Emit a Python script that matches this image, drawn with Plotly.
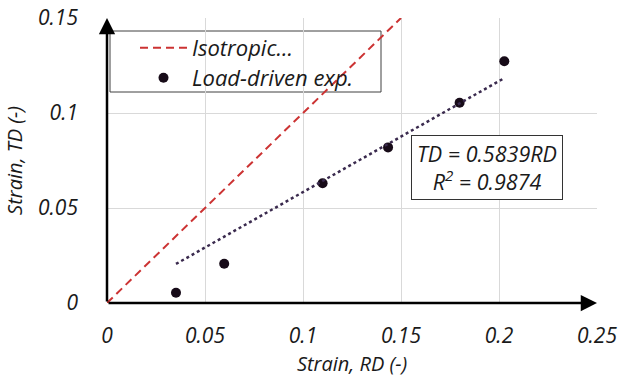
import plotly.graph_objects as go

# Data
rd_exp = [0.0352, 0.0598, 0.110, 0.1434, 0.1799, 0.2027]
td_exp = [0.0054, 0.0207, 0.063, 0.0819, 0.1054, 0.1272]
iso_x = [0.0, 0.15]
iso_y = [0.0, 0.15]
fit_slope = 0.5839
fit_r2 = 0.9874
x_ticks = [0, 0.05, 0.1, 0.15, 0.2, 0.25]
x_ticklabels = ["0", "0.05", "0.1", "0.15", "0.2", "0.25"]
y_ticks = [0, 0.05, 0.1, 0.15]
y_ticklabels = ["0", "0.05", "0.1", "0.15"]

fit_x = [min(rd_exp), max(rd_exp)]
fit_y = [fit_slope * v for v in fit_x]

FONT = "Open Sans"
TXT = "#1a1a1a"
L, R, T, B = 107, 24, 18, 77
PW, PH = 621 - L - R, 380 - T - B


def px_x(p):
    return (p - L) / PW


def px_y(p):
    return (380 - B - p) / PH


fig = go.Figure()
fig.add_trace(go.Scatter(
    x=iso_x, y=iso_y, mode="lines", name="<i>Isotropic...</i>",
    line=dict(color="#cc3333", width=2, dash="8px,5px"), legend="legend",
))
fig.add_trace(go.Scatter(
    x=rd_exp, y=td_exp, mode="markers", name="<i>Load-driven exp.</i>",
    marker=dict(color="#170b18", size=10), legend="legend2",
))
fig.add_trace(go.Scatter(
    x=fit_x, y=fit_y, mode="lines", showlegend=False,
    line=dict(color="#3a2a4e", width=2.5, dash="dot"),
))

# axis arrows
fig.add_annotation(x=0.25, y=0, ax=0, ay=0, xref="x", yref="y", axref="x", ayref="y",
                   showarrow=True, arrowhead=2, arrowsize=1.3, arrowwidth=2.5,
                   arrowcolor="black", text="")
fig.add_annotation(x=0, y=0.15, ax=0, ay=0, xref="x", yref="y", axref="x", ayref="y",
                   showarrow=True, arrowhead=2, arrowsize=1.3, arrowwidth=2.5,
                   arrowcolor="black", text="")

# equation box
fig.add_annotation(
    x=0.194, y=0.0712, xref="x", yref="y", showarrow=False,
    text=f"<i>TD = {fit_slope}RD</i><br><i>R<sup>2</sup> = {fit_r2}</i>",
    font=dict(family=FONT, size=21.5, color=TXT),
    bordercolor="#333333", borderwidth=1, borderpad=3, bgcolor="white",
    width=144, height=57, align="center",
)

# legend box
fig.add_shape(type="rect", xref="paper", yref="paper",
              x0=px_x(110), x1=px_x(381), y0=px_y(92), y1=px_y(31),
              line=dict(color="#404040", width=1), fillcolor="white", layer="below")

leg_common = dict(xanchor="left", yanchor="middle", bgcolor="rgba(0,0,0,0)",
                  borderwidth=0, itemwidth=47,
                  font=dict(family=FONT, size=22, color=TXT))

fig.update_layout(
    width=621, height=380,
    margin=dict(l=L, r=R, t=T, b=B),
    paper_bgcolor="white", plot_bgcolor="rgba(0,0,0,0)",
    font=dict(family=FONT, size=21, color=TXT),
    showlegend=True,
    legend=dict(x=px_x(135), y=px_y(48), **leg_common),
    legend2=dict(x=px_x(135), y=px_y(78), **leg_common),
    xaxis=dict(
        range=[0, 0.25], tickvals=x_ticks, ticktext=[f"<i>{t}</i>" for t in x_ticklabels],
        showgrid=True, gridcolor="#d9d9d9", gridwidth=1, zeroline=False,
        showline=False, ticks="", ticklabelstandoff=18, automargin=False,
        title=dict(text="<i>Strain, RD (-)</i>", standoff=8, font=dict(size=20)),
        fixedrange=True,
    ),
    yaxis=dict(
        range=[0, 0.15], tickvals=y_ticks, ticktext=[f"<i>{t}</i>" for t in y_ticklabels],
        showgrid=True, gridcolor="#d9d9d9", gridwidth=1, zeroline=False,
        showline=False, ticks="", ticklabelstandoff=28, automargin=False,
        title=dict(text="<i>Strain, TD (-)</i>", standoff=10, font=dict(size=20)),
        fixedrange=True,
    ),
)

fig.write_html("out.html")
